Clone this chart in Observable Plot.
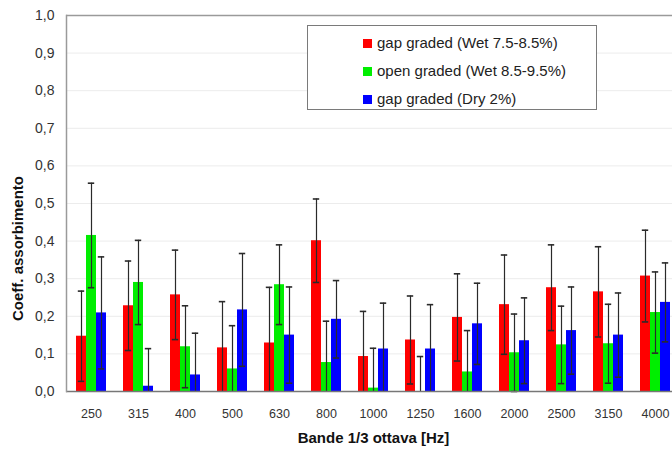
<!DOCTYPE html>
<html>
<head>
<meta charset="utf-8">
<script src="https://cdn.jsdelivr.net/npm/d3@7"></script>
<script src="https://cdn.jsdelivr.net/npm/@observablehq/plot@0.6"></script>
<style>
  html, body { margin: 0; padding: 0; background: white; overflow: hidden; }
  #wrap { position: relative; width: 672px; height: 450px; overflow: hidden; background: white; }
  #wrap svg { position: absolute; left: 0; top: 0; }
  #legend {
    position: absolute; left: 307px; top: 25px; width: 288px; height: 83px;
    border: 1.5px solid #7a7a7a; background: white;
    font-family: "Liberation Sans", Arial, sans-serif; font-size: 15px; color: #222;
  }
  .item { position: absolute; left: 55px; display: flex; align-items: center; white-space: nowrap; line-height: 18px; }
  .sw { width: 9px; height: 9px; margin-right: 5px; }
</style>
</head>
<body>
<div id="wrap"></div>
<script>
const freqs = ["250","315","400","500","630","800","1000","1250","1600","2000","2500","3150","4000"];
const seriesNames = ["gap graded (Wet 7.5-8.5%)", "open graded (Wet 8.5-9.5%)", "gap graded (Dry 2%)"];
const seriesColors = ["#ff0000", "#00ee00", "#0000ff"];

const redValues   = [0.147, 0.228, 0.257, 0.116, 0.129, 0.401, 0.093, 0.137, 0.197, 0.231, 0.276, 0.265, 0.307];
const redErrors   = [0.120, 0.119, 0.119, 0.123, 0.148, 0.111, 0.120, 0.117, 0.116, 0.132, 0.114, 0.120, 0.122];
const greenValues = [0.415, 0.290, 0.119, 0.060, 0.284, 0.077, 0.009, 0.000, 0.052, 0.103, 0.124, 0.127, 0.210];
const greenErrors = [0.139, 0.112, 0.109, 0.115, 0.106, 0.110, 0.106, 0.093, 0.110, 0.103, 0.103, 0.105, 0.108];
const blueValues  = [0.209, 0.014, 0.044, 0.217, 0.150, 0.192, 0.113, 0.113, 0.180, 0.135, 0.162, 0.150, 0.237];
const blueErrors  = [0.149, 0.100, 0.111, 0.150, 0.128, 0.103, 0.122, 0.118, 0.108, 0.114, 0.116, 0.112, 0.105];

const yTicks = [0, 0.1, 0.2, 0.3, 0.4, 0.5, 0.6, 0.7, 0.8, 0.9, 1.0];
const gridTicks = [0.1, 0.2, 0.3, 0.4, 0.5, 0.6, 0.7, 0.8, 0.9];
const yTitle = "Coeff. assorbimento";
const xTitle = "Bande 1/3 ottava [Hz]";

const valueSets = [redValues, greenValues, blueValues];
const errorSets = [redErrors, greenErrors, blueErrors];
const rows = [];
seriesNames.forEach((s, k) => {
  freqs.forEach((f, i) => {
    const v = valueSets[k][i], e = errorSets[k][i];
    rows.push({freq: f, series: s, v, lo: v - e, hi: v + e});
  });
});

const common = {
  width: 672,
  height: 450,
  marginLeft: 66,
  marginRight: -8,
  marginTop: 15,
  marginBottom: 59,
  style: {fontFamily: "'Liberation Sans', Arial, sans-serif", background: "transparent", color: "#222", overflow: "hidden"},
  y: {domain: [0, 1], axis: null}
};

// layer 1: grid
const gridLayer = Plot.plot({
  ...common,
  x: {domain: freqs, axis: null, paddingInner: 0.32, paddingOuter: 0.16},
  marks: [
    Plot.ruleY(gridTicks, {stroke: "#ececec", strokeWidth: 1})
  ]
});

// layer 2: bars and error bars, faceted by frequency band
const barLayer = Plot.plot({
  ...common,
  fx: {domain: freqs, paddingInner: 0.32, paddingOuter: 0.16, axis: null, label: null},
  x: {domain: seriesNames, axis: null, padding: 0},
  color: {domain: seriesNames, range: seriesColors},
  marks: [
    Plot.barY(rows, {fx: "freq", x: "series", y: "v", fill: "series"}),
    Plot.ruleX(rows, {fx: "freq", x: "series", y1: d => Math.max(0, d.lo), y2: "hi", stroke: "#2a2a2a", strokeWidth: 1.2}),
    Plot.tickY(rows, {fx: "freq", x: "series", y: "hi", stroke: "#2a2a2a", strokeWidth: 1.6, insetLeft: 1.8, insetRight: 1.8}),
    Plot.tickY(rows.filter(d => d.lo >= 0), {fx: "freq", x: "series", y: "lo", stroke: "#2a2a2a", strokeWidth: 1.6, insetLeft: 1.8, insetRight: 1.8})
  ]
});

// layer 3: axes, frame, titles
const axisLayer = Plot.plot({
  ...common,
  x: {domain: freqs, axis: null, paddingInner: 0.32, paddingOuter: 0.16},
  marks: [
    Plot.ruleY([1], {stroke: "#9a9a9a", strokeWidth: 1.5}),
    Plot.ruleY([0], {stroke: "#777", strokeWidth: 1.5}),
    Plot.frame({anchor: "left", stroke: "#9a9a9a", strokeWidth: 1.5}),
    Plot.axisY({ticks: yTicks, tickSize: 0, tickPadding: 12, fontSize: 14, fill: "#333",
      tickFormat: d => d.toFixed(1).replace(".", ","), label: null}),
    Plot.axisX({anchor: "bottom", tickSize: 0, tickPadding: 18, fontSize: 12.5, fill: "#333", label: null}),
    Plot.text([xTitle], {frameAnchor: "bottom", dy: 51, fontSize: 15, fontWeight: "bold", fill: "#111"}),
    Plot.text([yTitle], {frameAnchor: "left", textAnchor: "middle", dx: -48, dy: 45, rotate: -90, fontSize: 15, fontWeight: "bold", fill: "#111"})
  ]
});

const wrap = document.getElementById("wrap");
wrap.appendChild(gridLayer);
wrap.appendChild(barLayer);
wrap.appendChild(axisLayer);

const legend = document.createElement("div");
legend.id = "legend";
seriesNames.forEach((s, k) => {
  const it = document.createElement("div");
  it.className = "item";
  it.style.top = (8 + k * 28) + "px";
  const sw = document.createElement("div");
  sw.className = "sw";
  sw.style.background = seriesColors[k];
  const tx = document.createElement("span");
  tx.textContent = s;
  it.appendChild(sw);
  it.appendChild(tx);
  legend.appendChild(it);
});
wrap.appendChild(legend);
</script>
</body>
</html>
